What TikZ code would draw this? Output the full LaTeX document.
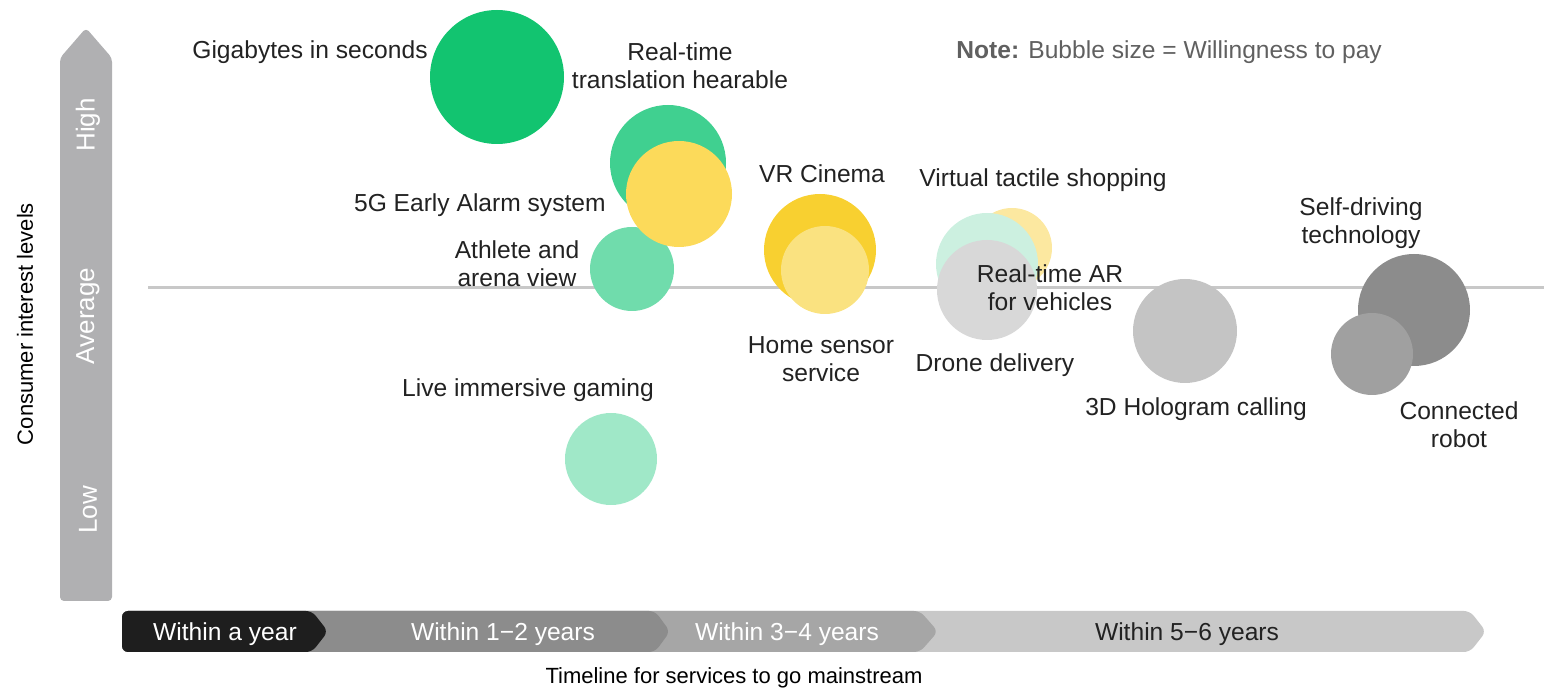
\documentclass[tikz,border=0pt]{standalone}
\usepackage{fontspec}
\setmainfont{Liberation Sans}
\definecolor{giga}{RGB}{18,196,112}
\definecolor{hearable}{RGB}{64,208,144}
\definecolor{athlete}{RGB}{112,220,172}
\definecolor{gaming}{RGB}{160,232,200}
\definecolor{tactile}{RGB}{204,240,224}
\definecolor{alarm}{RGB}{252,218,90}
\definecolor{cinema}{RGB}{248,208,48}
\definecolor{sensor}{RGB}{250,226,128}
\definecolor{vehicle}{RGB}{252,232,160}
\definecolor{drone}{RGB}{216,216,216}
\definecolor{hologram}{RGB}{196,196,196}
\definecolor{selfdrive}{RGB}{140,140,140}
\definecolor{robot}{RGB}{160,160,160}
\definecolor{axisgrey}{RGB}{176,176,178}
\definecolor{midline}{RGB}{200,200,200}
\definecolor{bandA}{RGB}{30,30,30}
\definecolor{bandB}{RGB}{140,140,140}
\definecolor{bandC}{RGB}{166,166,166}
\definecolor{bandD}{RGB}{200,200,200}
\definecolor{labeltext}{RGB}{34,34,34}
\definecolor{notetext}{RGB}{96,96,96}
\begin{document}
\begin{tikzpicture}
  [x=0.5pt, y=-0.5pt,
   bubble/.style={circle, inner sep=0pt, draw=none, minimum size=#1},
   txt/.style={text=labeltext, align=center, inner sep=0pt, yshift=-1pt,
     font=\fontsize{12.3}{14}\selectfont},
   level/.style={text=white, rotate=90, inner sep=0pt,
     font=\fontsize{13}{15}\selectfont},
   axistitle/.style={text=black, inner sep=0pt, yshift=-1pt,
     font=\fontsize{11}{13}\selectfont},
   band/.style={rounded corners=3pt}]
  \useasboundingbox (0,0) rectangle (1544,689);

  % interest axis
  \fill[axisgrey, rounded corners=2pt]
    (60,601) -- (60,58) -- (86,28) -- (112,58) -- (112,601) -- cycle;
  \node[level] (high) at (88,125) {High};
  \node[level] (avg) at (88,316) {Average};
  \node[level] (low) at (88,510) {Low};
  \node[axistitle, rotate=90] (ytitle) at (25,322) {Consumer interest levels};

  % average line
  \coordinate (lineL) at (148,288);
  \coordinate (lineR) at (1544,288);
  \draw[midline, line width=1.5pt] (lineL) -- (lineR);

  % timeline bands
  \fill[bandD, band] (122,611) -- (1470,611) -- (1486,631.5) -- (1470,652) -- (122,652) -- cycle;
  \fill[bandC, band] (122,611) -- (920,611) -- (938,631.5) -- (920,652) -- (122,652) -- cycle;
  \fill[bandB, band] (122,611) -- (655,611) -- (670,631.5) -- (655,652) -- (122,652) -- cycle;
  \fill[bandA, band] (122,611) -- (312,611) -- (328,631.5) -- (312,652) -- (122,652) -- cycle;
  \node[txt, text=white] (year0) at (225,632) {Within a year};
  \node[txt, text=white] (year12) at (503,632) {Within 1−2 years};
  \node[txt, text=white] (year34) at (787,632) {Within 3−4 years};
  \node[txt] (year56) at (1187,632) {Within 5−6 years};
  \node[axistitle] (xtitle) at (734,676) {Timeline for services to go mainstream};

  % bubbles
  \node[bubble=67pt, fill=giga] (gigaB) at (497,77) {};
  \node[bubble=58pt, fill=hearable] (hearB) at (668,163) {};
  \node[bubble=42pt, fill=athlete] (athB) at (632,269) {};
  \node[bubble=53pt, fill=alarm] (alarmB) at (679,194) {};
  \node[bubble=46pt, fill=gaming] (gameB) at (611,459) {};
  \node[bubble=56pt, fill=cinema] (cinemaB) at (820,250) {};
  \node[bubble=44pt, fill=sensor] (sensorB) at (825,270) {};
  \node[bubble=40pt, fill=vehicle] (arB) at (1012,248) {};
  \node[bubble=51pt, fill=tactile] (tactB) at (987,264) {};
  \node[bubble=50pt, fill=drone] (droneB) at (987,290) {};
  \node[bubble=52pt, fill=hologram] (holoB) at (1185,331) {};
  \node[bubble=56pt, fill=selfdrive] (driveB) at (1414,310) {};
  \node[bubble=41pt, fill=robot] (robotB) at (1372,354) {};

  % labels
  \node[txt, anchor=east] (gigaT) at (428,50) {Gigabytes in seconds};
  \node[txt] (hearT) at (680,64) {Real-time\\translation hearable};
  \node[txt, anchor=east] (alarmT) at (606,203) {5G Early Alarm system};
  \node[txt] (athT) at (517,262) {Athlete and\\arena view};
  \node[txt] (cinemaT) at (822,172) {VR Cinema};
  \node[txt] (tactT) at (1043,178) {Virtual tactile shopping};
  \node[txt] (arT) at (1050,286) {Real-time AR\\for vehicles};
  \node[txt] (sensorT) at (821,357) {Home sensor\\service};
  \node[txt] (droneT) at (995,363) {Drone delivery};
  \node[txt] (gameT) at (528,388) {Live immersive gaming};
  \node[txt] (holoT) at (1196,407) {3D Hologram calling};
  \node[txt] (driveT) at (1361,221) {Self-driving\\technology};
  \node[txt] (robotT) at (1459,423) {Connected\\robot};
  \node[txt, anchor=west, text=notetext] (note) at (956,50)
    {\textbf{Note:} Bubble size = Willingness to pay};
\end{tikzpicture}
\end{document}
